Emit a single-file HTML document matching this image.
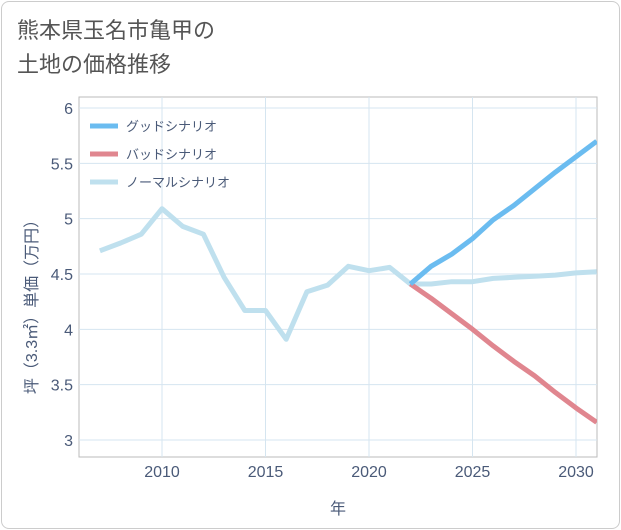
<!DOCTYPE html>
<html><head><meta charset="utf-8">
<style>
html,body{margin:0;padding:0;background:#fff;}
body{width:621px;height:530px;overflow:hidden;font-family:"Liberation Sans","Noto Sans CJK JP",sans-serif;}
.card{position:absolute;left:1px;top:1px;width:617px;height:526px;border:1px solid #ccc;border-radius:8px;background:#fff;}
.title{position:absolute;left:17px;top:14px;font-size:22px;line-height:34px;color:#555;}
</style></head><body>
<div class="card"></div>
<div class="title">熊本県玉名市亀甲の<br>土地の価格推移</div>
<svg id="chart" width="621" height="530" style="position:absolute;left:0;top:0"></svg>
<script>
const years=[2007,2008,2009,2010,2011,2012,2013,2014,2015,2016,2017,2018,2019,2020,2021,2022,2023,2024,2025,2026,2027,2028,2029,2030,2031];
const normalVals=[4.71,4.78,4.86,5.09,4.93,4.86,4.47,4.17,4.17,3.91,4.34,4.40,4.57,4.53,4.56,4.41,4.41,4.43,4.43,4.46,4.47,4.48,4.49,4.51,4.52];
const futureYears=[2022,2023,2024,2025,2026,2027,2028,2029,2030,2031];
const goodVals=[4.41,4.57,4.68,4.82,4.99,5.12,5.27,5.42,5.56,5.70];
const badVals=[4.41,4.28,4.14,4.00,3.85,3.71,3.58,3.43,3.29,3.16];
const xTicks=[2010,2015,2020,2025,2030];
const yTicks=[3,3.5,4,4.5,5,5.5,6];
const yTickLabels=["3","3.5","4","4.5","5","5.5","6"];
const seriesNames=["グッドシナリオ","バッドシナリオ","ノーマルシナリオ"];
const seriesColors=["#6bbcf0","#e0868f","#bfe0ee"];

const NS="http://www.w3.org/2000/svg";
const svg=document.getElementById('chart');
const L=79,R=597,T=97,B=457;
const x=v=>162+(v-2010)*(576-162)/20;
const y=v=>440-(v-3)*(440-108)/3;
function el(t,a){const e=document.createElementNS(NS,t);for(const k in a)e.setAttribute(k,a[k]);svg.appendChild(e);return e;}

const bg=el('rect',{x:L,y:T,width:R-L,height:B-T,fill:'#fff',stroke:'#bbb'});


xTicks.forEach(t=>{
  const g=el('line',{x1:x(t),x2:x(t),y1:T,y2:B,stroke:'#d5e5f0'});
  
  
  const tx=el('text',{x:x(t),y:477,'text-anchor':'middle','font-size':16,fill:'#4a5a78'});
  tx.textContent=t;
  
  
});
yTicks.forEach((t,i)=>{
  const g=el('line',{x1:L,x2:R,y1:y(t),y2:y(t),stroke:'#d5e5f0'});
  
  
  const tx=el('text',{x:73,y:y(t)+6,'text-anchor':'end','font-size':16,fill:'#4a5a78'});
  tx.textContent=yTickLabels[i];
  
  
});
const xt=el('text',{x:338,y:514,'text-anchor':'middle','font-size':16,fill:'#4a5a78'});
xt.textContent='年';


const yt=el('text',{x:0,y:0,'text-anchor':'middle','font-size':16,fill:'#4a5a78',transform:'translate(37,303) rotate(-90)'});
yt.textContent='坪（3.3㎡）単価（万円）';



function line(xs,vs,c,name){
  const d=xs.map((v,i)=>(i?'L':'M')+x(v).toFixed(1)+','+y(vs[i]).toFixed(1)).join('');
  const p=el('path',{d:d,fill:'none',stroke:c,'stroke-width':5,'stroke-linejoin':'round'});
  
  
}
const clip=el('clipPath',{id:'c'});
const cr=document.createElementNS(NS,'rect');
cr.setAttribute('x',L);cr.setAttribute('y',T);cr.setAttribute('width',R-L);cr.setAttribute('height',B-T);
clip.appendChild(cr);
line(years,normalVals,seriesColors[2],'normal-scenario-line');
line(futureYears,badVals,seriesColors[1],'bad-scenario-line');
line(futureYears,goodVals,seriesColors[0],'good-scenario-line');
svg.querySelectorAll('path').forEach(p=>p.setAttribute('clip-path','url(#c)'));

seriesNames.forEach((n,i)=>{
  const yy=126+i*28;
  const l=el('line',{x1:90,x2:118,y1:yy,y2:yy,stroke:seriesColors[i],'stroke-width':5});
  
  
  const t=el('text',{x:126,y:yy+5,'font-size':13,fill:'#4a5a78'});
  t.textContent=n;
  
  
});
</script>
</body></html>
